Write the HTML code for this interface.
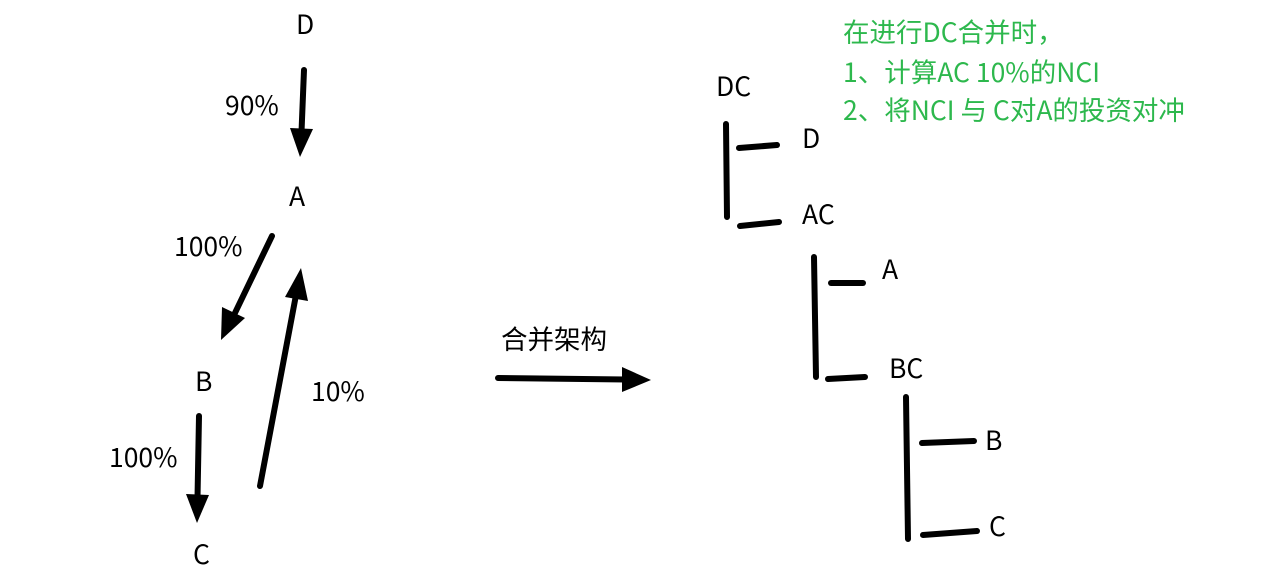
<!DOCTYPE html>
<html><head><meta charset="utf-8"><style>
html,body{margin:0;padding:0;background:#fff;}
svg{display:block;}
text{font-family:"Noto Sans CJK SC","Liberation Sans",sans-serif;font-size:26.5px;fill:#000;}
.g{fill:#2db84d;}
</style></head><body>
<svg width="1285" height="584" viewBox="0 0 1285 584" xmlns="http://www.w3.org/2000/svg">
<g stroke="#000" stroke-width="6" stroke-linecap="round" fill="none">
<line x1="304" y1="70" x2="301.5" y2="132"/>
<line x1="272" y1="236" x2="234" y2="315"/>
<line x1="199" y1="416" x2="197.5" y2="498"/>
<line x1="260" y1="486" x2="296" y2="295"/>
<line x1="498" y1="378" x2="626" y2="379.5"/>
<line x1="726" y1="124" x2="727" y2="217"/>
<line x1="739" y1="148" x2="777" y2="145"/>
<line x1="740" y1="226" x2="779" y2="222"/>
<line x1="814" y1="257" x2="816" y2="377"/>
<line x1="831" y1="283" x2="863" y2="283"/>
<line x1="828" y1="379" x2="865" y2="377"/>
<line x1="906" y1="397" x2="908" y2="539"/>
<line x1="922" y1="443" x2="974" y2="441"/>
<line x1="923" y1="535" x2="977" y2="531"/>
</g>
<g fill="#000">
<polygon points="290,128 313,129 300,157"/>
<polygon points="222,307 245,318 221,340"/>
<polygon points="186,494 209,495 197,523"/>
<polygon points="285,297 308,301 301,268"/>
<polygon points="622,367 622,392 651,380"/>
</g>
<text x="296" y="34">D</text>
<text x="225" y="115">90%</text>
<text x="289" y="206">A</text>
<text x="174" y="256">100%</text>
<text x="195" y="391">B</text>
<text x="311" y="401">10%</text>
<text x="109" y="467">100%</text>
<text x="193" y="564">C</text>
<text x="501" y="349">合并架构</text>
<text x="716" y="96">DC</text>
<text x="802" y="148">D</text>
<text x="802" y="224">AC</text>
<text x="882" y="279">A</text>
<text x="889" y="378">BC</text>
<text x="985" y="450">B</text>
<text x="989" y="536">C</text>
<text class="g" x="843" y="42">在进行DC合并时，</text>
<text class="g" x="843" y="82">1、计算AC 10%的NCI</text>
<text class="g" x="843" y="120">2、将NCI 与 C对A的投资对冲</text>
</svg>
</body></html>
